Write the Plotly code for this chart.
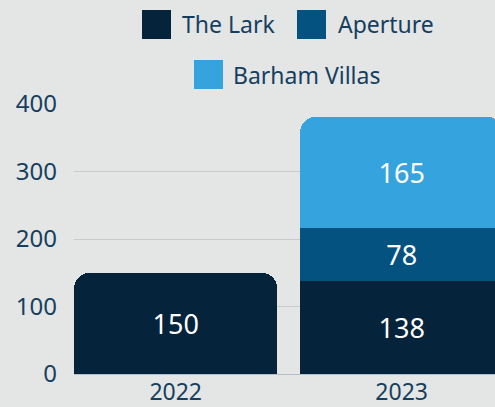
import plotly.graph_objects as go

# ---- data ----
years = ["2022", "2023"]
series_names = ["The Lark", "Aperture", "Barham Villas"]
the_lark = [150, 138]
aperture = [None, 78]
barham_villas = [None, 165]
y_ticks = [0, 100, 200, 300, 400]

# ---- styles ----
colors = ["#05233a", "#04527f", "#35a3dd"]
bg = "#e4e6e5"
text_color = "#163f5f"
FONT = "Noto Sans"

W, H = 495, 407
ML, MR, MT, MB = 74, 0, 104, 33
PW, PH = W - ML - MR, H - MT - MB

fig = go.Figure()
for name, vals, col in zip(series_names, [the_lark, aperture, barham_villas], colors):
    fig.add_trace(go.Bar(
        x=years, y=vals, name=name,
        marker=dict(color=col, line=dict(width=0)),
        texttemplate="%{y}", textposition="inside", insidetextanchor="middle",
        textangle=0,
        textfont=dict(color="white", size=27, family=FONT),
        showlegend=False, hoverinfo="x+y+name",
    ))

# ---- custom legend (swatches + labels) ----
def px_x(px):
    return (px - ML) / PW

def px_y(py):
    return (H - MB - py) / PH

legend_rows = [[0, 1], [2]]
row_centers = [24.5, 74.5]
swatch = 29
legend_layout = {0: (142, 180), 1: (297, 336), 2: (194, 231)}
shapes, annotations = [], []
for row, cy in zip(legend_rows, row_centers):
    for i in row:
        sx, tx = legend_layout[i]
        shapes.append(dict(type="rect", xref="paper", yref="paper",
                           x0=px_x(sx), x1=px_x(sx + swatch),
                           y0=px_y(cy + swatch / 2), y1=px_y(cy - swatch / 2),
                           fillcolor=colors[i], line=dict(width=0)))
        annotations.append(dict(text=series_names[i], xref="paper", yref="paper",
                                x=px_x(tx), y=px_y(cy), xanchor="left", yanchor="middle",
                                showarrow=False,
                                font=dict(size=23, color=text_color, family=FONT)))

fig.update_layout(
    width=W, height=H,
    margin=dict(l=ML, r=MR, t=MT, b=MB, pad=0, autoexpand=False),
    barmode="stack", bargap=0.1, barcornerradius=16,
    paper_bgcolor=bg, plot_bgcolor=bg,
    font=dict(family=FONT, color=text_color),
    shapes=shapes, annotations=annotations,
    xaxis=dict(type="category", range=[-0.45, 1.413], showgrid=False,
               showline=False, zeroline=False, ticks="", ticklabelstandoff=2,
               automargin=False,
               tickfont=dict(size=23, color=text_color, family=FONT)),
    yaxis=dict(range=[0, 400], tickvals=y_ticks, showgrid=True,
               gridcolor="#c6cbce", gridwidth=1,
               zeroline=True, zerolinecolor="#b3c0ca", zerolinewidth=1,
               showline=False, ticks="", ticklabelstandoff=16, automargin=False,
               tickfont=dict(size=24, color=text_color, family=FONT)),
)

fig.write_html(
    "out.html",
    config={"displayModeBar": False},
    post_script="document.body.style.margin='0';document.body.style.background='%s';" % bg,
)
